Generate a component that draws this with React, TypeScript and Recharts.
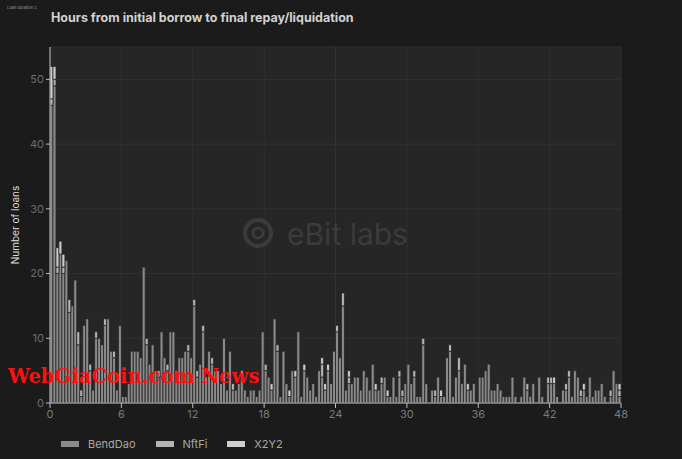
import { Bar, BarChart, CartesianGrid, Legend, XAxis, YAxis } from "recharts";

// loans per 15 minute bucket, 0h .. 48h (192 buckets)
const benddao = [
  46, 49, 20, 23, 20, 22, 14, 15, 19, 9, 1, 12, 13, 5, 2, 10, 10, 9, 12, 13, 8, 7, 2, 12,
  1, 1, 3, 8, 8, 8, 7, 21, 9, 6, 9, 5, 4, 11, 7, 5, 11, 11, 5, 7, 7, 8, 8, 7,
  15, 4, 6, 11, 4, 8, 6, 5, 5, 3, 10, 2, 8, 2, 2, 3, 4, 2, 1, 2, 2, 1, 2, 11,
  5, 4, 2, 13, 8, 1, 8, 3, 1, 5, 4, 11, 1, 5, 4, 2, 3, 1, 5, 4, 2, 5, 3, 8,
  11, 7, 15, 2, 3, 3, 4, 4, 2, 5, 4, 2, 6, 2, 2, 3, 4, 1, 1, 4, 1, 4, 1, 3,
  6, 3, 4, 1, 1, 9, 3, 0, 2, 1, 4, 1, 1, 7, 8, 1, 4, 5, 3, 6, 2, 2, 3, 0,
  4, 4, 5, 6, 2, 2, 3, 2, 1, 1, 1, 4, 1, 0, 1, 4, 2, 1, 3, 0, 4, 1, 0, 3,
  3, 3, 1, 0, 2, 2, 4, 1, 5, 4, 1, 2, 1, 4, 1, 2, 2, 3, 1, 0, 1, 5, 3, 1,
];
const nftfi = [
  1, 1, 1, 0, 1, 0, 2, 0, 0, 2, 1, 0, 0, 1, 0, 1, 0, 0, 1, 0, 0, 1, 0, 0,
  0, 0, 0, 0, 0, 0, 0, 0, 1, 0, 0, 0, 1, 0, 0, 1, 0, 0, 0, 0, 0, 0, 1, 0,
  1, 1, 0, 1, 0, 0, 1, 0, 0, 0, 0, 0, 0, 1, 0, 0, 1, 0, 0, 0, 0, 0, 0, 0,
  1, 0, 0, 0, 1, 0, 0, 0, 0, 0, 0, 0, 0, 0, 0, 0, 0, 0, 0, 2, 0, 0, 0, 0,
  1, 0, 2, 0, 1, 0, 0, 0, 0, 0, 0, 0, 0, 0, 0, 1, 0, 0, 0, 0, 0, 1, 1, 0,
  0, 0, 1, 0, 0, 1, 0, 0, 0, 1, 0, 0, 0, 0, 1, 0, 0, 2, 0, 0, 0, 0, 0, 0,
  0, 0, 0, 0, 0, 0, 0, 0, 0, 0, 0, 0, 0, 0, 0, 0, 1, 0, 0, 0, 0, 0, 0, 1,
  1, 0, 0, 0, 0, 1, 1, 0, 0, 0, 1, 0, 0, 0, 0, 0, 0, 0, 0, 0, 1, 0, 0, 1,
];
const x2y2 = [
  5, 2, 3, 2, 2, 0, 0, 0, 0, 0, 0, 0, 0, 0, 0, 0, 0, 0, 0, 0, 0, 0, 0, 0,
  0, 0, 0, 0, 0, 0, 0, 0, 0, 0, 0, 0, 0, 0, 0, 0, 0, 0, 0, 0, 0, 0, 0, 0,
  0, 0, 0, 0, 0, 0, 0, 0, 0, 0, 0, 0, 0, 0, 0, 0, 0, 0, 0, 0, 0, 0, 0, 0,
  0, 0, 1, 0, 0, 0, 0, 0, 1, 0, 1, 0, 0, 1, 0, 0, 0, 0, 0, 1, 1, 1, 0, 0,
  0, 0, 0, 0, 1, 0, 0, 0, 0, 0, 0, 0, 0, 1, 0, 0, 0, 1, 0, 0, 0, 0, 0, 0,
  0, 0, 0, 0, 0, 0, 0, 0, 0, 0, 0, 1, 0, 0, 0, 0, 0, 0, 0, 0, 1, 0, 0, 0,
  0, 0, 0, 0, 0, 0, 0, 0, 0, 0, 0, 0, 0, 0, 0, 0, 0, 0, 0, 0, 0, 0, 0, 0,
  0, 1, 0, 0, 0, 0, 0, 0, 0, 0, 0, 1, 0, 0, 0, 0, 0, 0, 0, 0, 0, 0, 0, 1,
];

const hourTicks = [0, 6, 12, 18, 24, 30, 36, 42, 48];
const loanTicks = [0, 10, 20, 30, 40, 50];

const series = [
  { key: "BendDao", color: "#8a8a8a" },
  { key: "NftFi", color: "#b4b4b4" },
  { key: "X2Y2", color: "#cdcdcd" },
];

const data = benddao.map((b, i) => ({
  hour: i * 0.25 + 0.125,
  BendDao: b,
  NftFi: nftfi[i],
  X2Y2: x2y2[i],
}));

const FONT = "Inter, 'Noto Sans', sans-serif";

function LegendBox() {
  return (
    <div style={{ display: "flex", alignItems: "center", paddingLeft: 61, paddingTop: 12, fontFamily: FONT, fontSize: 11, color: "#a8a8a8" }}>
      {series.map((s) => (
        <div key={s.key} style={{ display: "flex", alignItems: "center", marginRight: 20 }}>
          <span style={{ display: "inline-block", width: 18, height: 6, background: s.color, marginRight: 9 }} />
          <span>{s.key}</span>
        </div>
      ))}
    </div>
  );
}

export default function App() {
  return (
    <div style={{ position: "relative", width: 682, height: 459, background: "#1b1b1b", fontFamily: FONT, overflow: "hidden" }}>
      <style>{`body{margin:0;background:#1b1b1b}`}</style>
      <div style={{ position: "absolute", left: 7, top: 5, fontSize: 4, color: "#9a9a9a" }}>Loan duration 2</div>
      <div style={{ position: "absolute", left: 51, top: 10, fontSize: 12.5, fontWeight: 700, color: "#d2d2d2" }}>
        Hours from initial borrow to final repay/liquidation
      </div>

      <div style={{ position: "absolute", left: 0, top: 0 }}>
        <BarChart width={682} height={459} data={data} margin={{ top: 47, right: 61, bottom: 8, left: 0 }} barCategoryGap={0}>
          <CartesianGrid stroke="#313131" fill="#262626" />
          <XAxis
            type="number"
            dataKey="hour"
            domain={[0, 48]}
            ticks={hourTicks}
            height={22}
            stroke="#bdbdbd"
            tickSize={5}
            tick={{ fill: "#7a7a7a", fontSize: 11 }}
          />
          <YAxis
            domain={[0, 55]}
            ticks={loanTicks}
            width={50}
            stroke="#bdbdbd"
            tickSize={4}
            tick={{ fill: "#6e6e6e", fontSize: 11 }}
            label={{ value: "Number of loans", angle: -90, position: "insideLeft", offset: 15, fill: "#dcdcdc", fontSize: 10, style: { textAnchor: "middle" } }}
          />
          <Legend verticalAlign="bottom" height={26} content={() => <LegendBox />} />
          {series.map((s) => (
            <Bar key={s.key} dataKey={s.key} stackId="loans" fill={s.color} stroke="#242424" strokeWidth={0.8} isAnimationActive={false} />
          ))}
        </BarChart>
      </div>

      {/* eBit labs watermark */}
      <svg width={682} height={459} style={{ position: "absolute", left: 0, top: 0, pointerEvents: "none" }}>
        <circle cx={258} cy={233} r={13} fill="none" stroke="#3b3b3b" strokeWidth={4} />
        <circle cx={258} cy={233} r={5} fill="none" stroke="#3b3b3b" strokeWidth={3} />
        <text x={287} y={245} fontSize={30} fill="#3b3b3b" fontFamily={FONT}>eBit labs</text>
      </svg>

      <div style={{ position: "absolute", left: 8, top: 365, fontFamily: "'DejaVu Serif', serif", fontWeight: 700, fontSize: 19.6, color: "#ff1010", whiteSpace: "nowrap" }}>
        WebGiaCoin.com News
      </div>
    </div>
  );
}
